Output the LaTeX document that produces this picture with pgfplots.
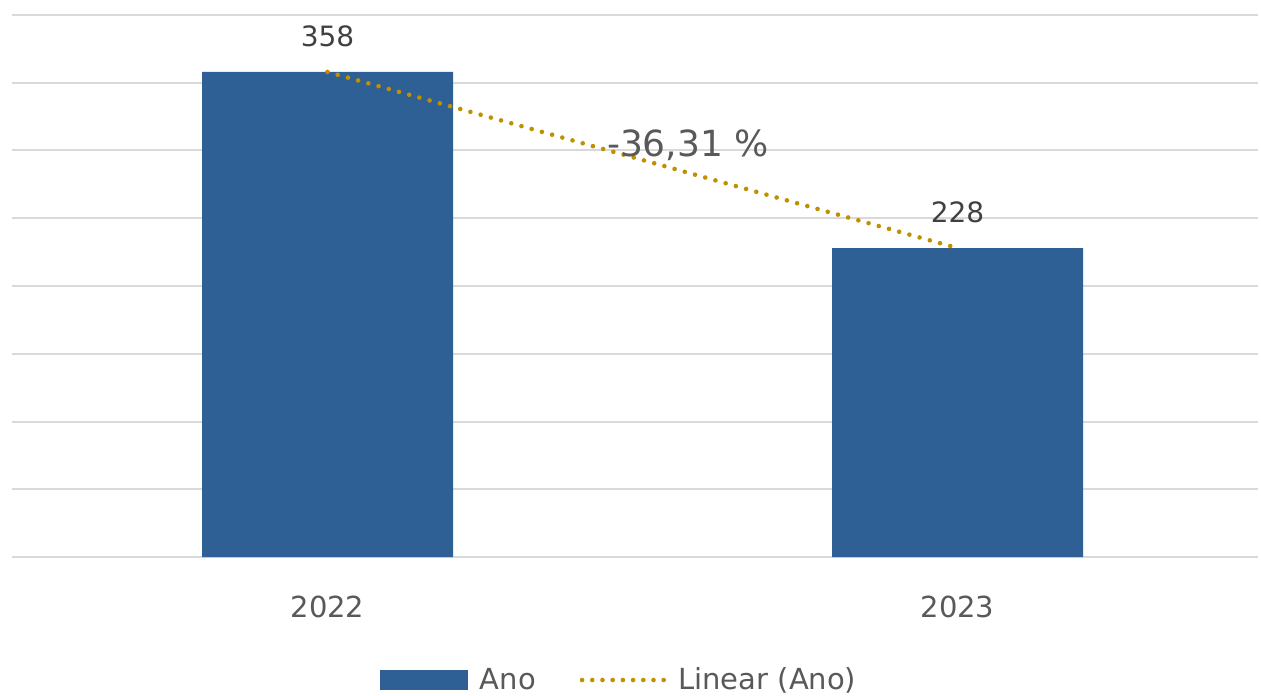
\documentclass[border=0pt]{standalone}
\usepackage{pgfplots}
\pgfplotsset{compat=1.18}
\usepackage{fontspec}
\setmainfont{DejaVu Sans}
\definecolor{barblue}{HTML}{2E5F95}
\definecolor{trend}{HTML}{BF9000}
\definecolor{gridc}{HTML}{D9D9D9}
\definecolor{txt}{HTML}{404040}
\definecolor{txt2}{HTML}{595959}
\begin{document}
\begin{tikzpicture}
\path[use as bounding box] (-6pt,-69pt) rectangle (624.5pt,278.5pt);
\begin{axis}[at={(0,0)},anchor=south west,
 width=623pt,height=271pt,scale only axis,
 xmin=-0.5008,xmax=1.477,ymin=0,ymax=400,
 ytick={0,50,...,400}, yticklabels={},
 ymajorgrids, grid style={gridc,line width=1pt},
 axis line style={draw=none},
 major tick length=0pt,
 xtick={0,1}, xticklabels={2022,2023},
 xticklabel style={font=\fontsize{14.5}{17}\selectfont, text=txt2, inner sep=0pt, yshift=-19.5pt},
 legend columns=2,
 legend style={draw=none, at={(0.488,-0.227)}, anchor=center, font=\fontsize{14.5}{17}\selectfont, text=txt2,
   /tikz/every even column/.append style={column sep=20pt},
   /tikz/every odd column/.append style={column sep=4pt}},
 clip=false,
]
\addplot[ybar, bar width=125.5pt, fill=barblue, draw=none, nodes near coords, nodes near coords style={font=\fontsize{14}{16}\selectfont, text=txt, inner sep=0pt, anchor=south, yshift=12.5pt, /pgf/number format/assume math mode=true}, legend image code/.code={\fill[barblue] (0pt,-5pt) rectangle (44pt,5pt);}] coordinates {(0,358) (1,228)};
\addlegendentry{Ano}
\addplot[trend, line width=2.3pt, line cap=round, dash pattern=on 0pt off 5.3pt, legend image code/.code={\draw[trend, line width=2.3pt, line cap=round, dash pattern=on 0pt off 5.1pt] (0pt,0pt) -- (41pt,0pt);}] coordinates {(0,358) (1,228)};
\addlegendentry{Linear (Ano)}
\node[font=\fontsize{18}{21}\selectfont, text=txt2] at (axis cs:0.572,304) {-36,31 \%};
\end{axis}
\end{tikzpicture}
\end{document}
